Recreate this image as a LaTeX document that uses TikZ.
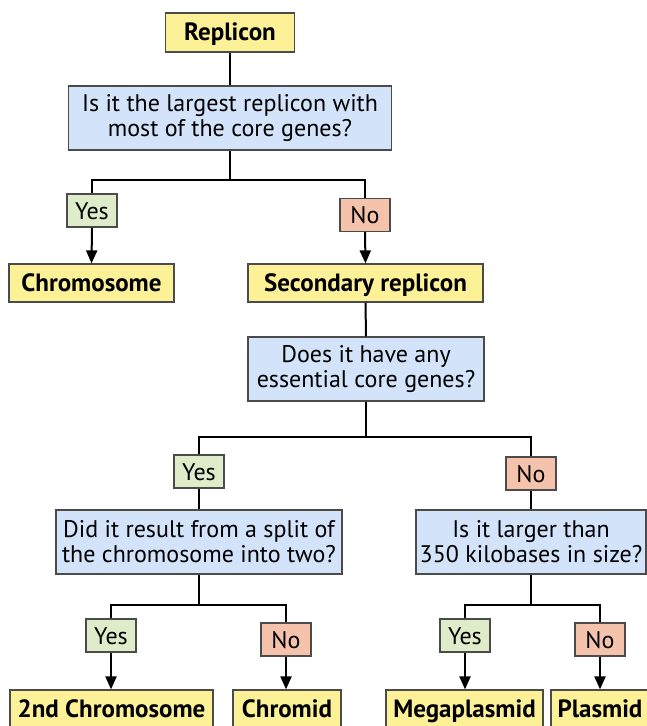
\documentclass[tikz,border=0pt]{standalone}
\usepackage{fontspec}
\setmainfont{PT Sans}
\usetikzlibrary{arrows.meta}
\definecolor{yel}{RGB}{253,241,152}
\definecolor{blu}{RGB}{210,227,250}
\definecolor{grn}{RGB}{222,236,202}
\definecolor{sal}{RGB}{245,195,172}
\definecolor{bord}{RGB}{75,75,75}
\tikzset{
  base/.style={draw=bord, line width=1.2pt, inner sep=0pt, align=center, font=\fontsize{24}{25}\selectfont},
  res/.style={base, fill=yel, font=\fontsize{25}{25}\selectfont\bfseries, minimum height=38pt, text height=16pt, text depth=0pt},
  ques/.style={base, fill=blu, minimum height=64pt},
  yesbox/.style={base, fill=grn, minimum width=50pt, minimum height=33pt, text height=17pt, text depth=0pt},
  nobox/.style={base, fill=sal, minimum width=50pt, minimum height=33pt, text height=17pt, text depth=0pt},
  conn/.style={line width=2pt, black},
  arr/.style={conn, -{Triangle[length=13pt,width=11pt]}}
}
\begin{document}
\begin{tikzpicture}[x=1pt,y=-1pt]
\useasboundingbox (0,0) rectangle (647,726);
\node[res, minimum width=129pt, minimum height=39pt] (rep) at (230,32.5) {Replicon};
\node[ques, minimum width=323pt] (q1) at (230,118) {Is it the largest replicon with\\most of the core genes?};
\node[yesbox] (yes1) at (92,210.5) {Yes};
\node[nobox] (no1) at (365,215) {No};
\node[res, minimum width=165pt] (chrom) at (91.5,283) {Chromosome};
\node[res, minimum width=235pt] (sec) at (365.5,283) {Secondary replicon};
\node[ques, minimum width=236pt] (q2) at (366,369) {Does it have any\\essential core genes?};
\node[yesbox] (yes2) at (199,471.5) {Yes};
\node[nobox] (no2) at (531,473.5) {No};
\node[ques, minimum width=286pt] (q3) at (199,542) {Did it result from a split of\\the chromosome into two?};
\node[ques, minimum width=230pt] (q4) at (531,542) {Is it larger than\\350 kilobases in size?};
\node[yesbox] (yes3) at (111,635.5) {Yes};
\node[nobox] (no3) at (286,639.5) {No};
\node[yesbox] (yes4) at (465,635.5) {Yes};
\node[nobox] (no4) at (600,639.5) {No};
\node[res, minimum width=203pt] (chr2) at (111.5,709) {2nd Chromosome};
\node[res, minimum width=108pt] (chromid) at (287,709) {Chromid};
\node[res, minimum width=157pt] (mega) at (464.5,709) {Megaplasmid};
\node[res, minimum width=98pt] (plas) at (600,709) {Plasmid};

\coordinate (j1) at (230,180);
\coordinate (j2) at (366,437);
\coordinate (j3) at (199,605);
\coordinate (j4) at (531,605);

\draw[conn] (rep.south) -- (q1.north);
\draw[conn] (q1.south) -- (j1);
\draw[conn] (yes1.north) |- (j1) -| (no1.north);
\draw[arr] (yes1.south) -- (chrom.north);
\draw[arr] (no1.south) -- (sec.north);
\draw[conn] (sec.south) -- (q2.north);
\draw[conn] (q2.south) -- (j2);
\draw[conn] (yes2.north) |- (j2) -| (no2.north);
\draw[conn] (yes2.south) -- (q3.north);
\draw[conn] (no2.south) -- (q4.north);
\draw[conn] (q3.south) -- (j3);
\draw[conn] (yes3.north) |- (j3) -| (no3.north);
\draw[conn] (q4.south) -- (j4);
\draw[conn] (yes4.north) |- (j4) -| (no4.north);
\draw[arr] (yes3.south) -- (yes3.south |- chr2.north);
\draw[arr] (no3.south) -- (no3.south |- chromid.north);
\draw[arr] (yes4.south) -- (yes4.south |- mega.north);
\draw[arr] (no4.south) -- (plas.north);
\end{tikzpicture}
\end{document}
